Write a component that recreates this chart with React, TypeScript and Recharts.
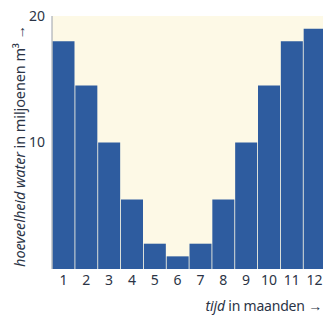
import { Bar, BarChart, CartesianGrid, Label, XAxis, YAxis } from "recharts";

const maanden = ["1", "2", "3", "4", "5", "6", "7", "8", "9", "10", "11", "12"];
const water = [18, 14.5, 10, 5.5, 2, 1, 2, 5.5, 10, 14.5, 18, 19];
const yTicks = [10, 20];

const data = maanden.map((m, i) => ({ maand: m, water: water[i] }));

const font = "'Noto Sans', 'Open Sans', sans-serif";
const ink = "#2b3446";

function YTitle() {
  return (
    <text
      x={19}
      y={146}
      transform="rotate(-90 19 146)"
      textAnchor="middle"
      dominantBaseline="central"
      fontFamily={font}
      fontSize={14.5}
      letterSpacing={-0.1}
      fill={ink}
    >
      <tspan fontStyle="italic">hoeveelheid water</tspan>
      <tspan> in miljoenen m³ →</tspan>
    </text>
  );
}

function XTitle() {
  return (
    <text
      x={322}
      y={305}
      textAnchor="end"
      dominantBaseline="central"
      fontFamily={font}
      fontSize={14}
      letterSpacing={-0.2}
      fill={ink}
    >
      <tspan fontStyle="italic">tijd</tspan>
      <tspan> in maanden →</tspan>
    </text>
  );
}

export default function App() {
  return (
    <div
      style={{
        position: "absolute",
        left: 0,
        top: 0,
        width: 323,
        height: 317,
        overflow: "hidden",
        background: "#ffffff",
      }}
    >
      <BarChart
        width={326}
        height={317}
        data={data}
        margin={{ top: 16, right: 0, bottom: 0, left: 0 }}
        barCategoryGap={0.5}
      >
        <CartesianGrid horizontal={false} vertical={false} fill="#fdf9e6" />
        <XAxis
          dataKey="maand"
          height={48}
          axisLine={false}
          tickLine={false}
          tickSize={0}
          tickMargin={6}
          tick={{ fontSize: 14, fill: ink, fontFamily: font }}
          interval={0}
        >
          <Label content={<XTitle />} />
        </XAxis>
        <YAxis
          width={52}
          domain={[0, 20]}
          ticks={yTicks}
          axisLine={{ stroke: "#9aa0aa", strokeWidth: 1 }}
          tickLine={false}
          tickSize={0}
          tickMargin={7}
          tick={{ fontSize: 14, fill: ink, fontFamily: font }}
        >
          <Label content={<YTitle />} />
        </YAxis>
        <Bar dataKey="water" fill="#2e5c9f" isAnimationActive={false} />
      </BarChart>
    </div>
  );
}
